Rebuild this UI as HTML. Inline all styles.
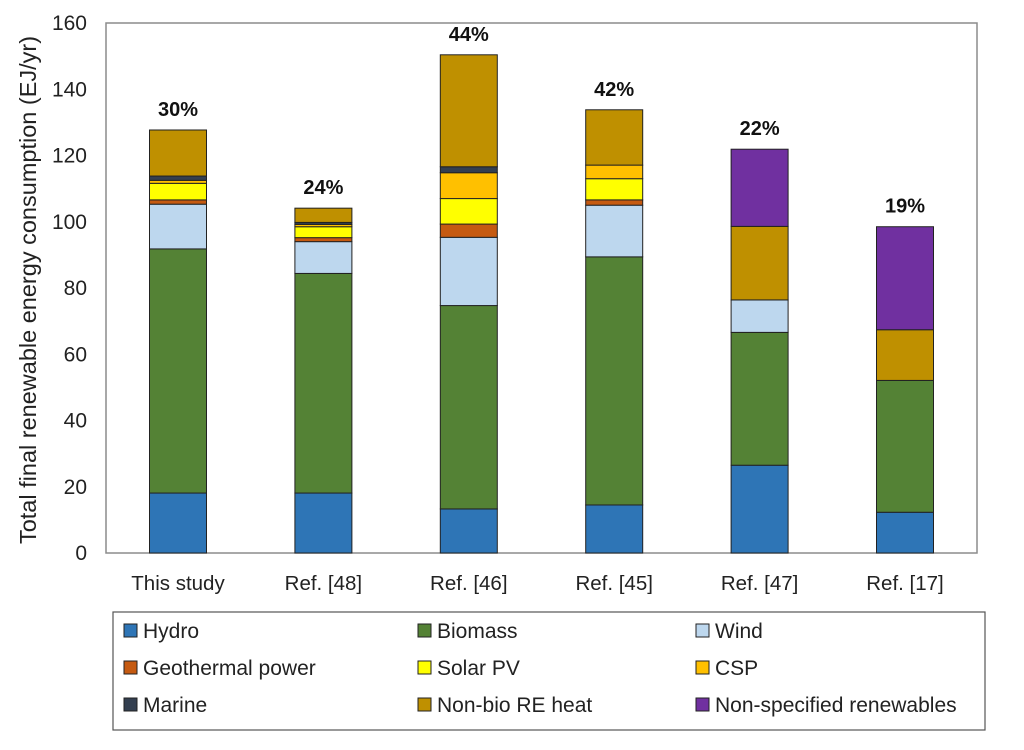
<!DOCTYPE html>
<html><head><meta charset="utf-8"><style>
body{margin:0;background:#fff;font-family:"Liberation Sans",sans-serif}
svg{display:block}
text{font-family:"Liberation Sans",sans-serif}
</style></head><body>
<svg id="chart" width="1024" height="750">
<rect x="106" y="23" width="871" height="530" fill="#fff" stroke="#8c8c8c" stroke-width="1.5"/>
<g id="yaxis"></g><g id="bars"></g><g id="legend"></g>
<text transform="translate(36,290) rotate(-90)" text-anchor="middle" font-size="23.5" fill="#222">Total final renewable energy consumption (EJ/yr)</text>
</svg>
<script>
const categories=["This study","Ref. [48]","Ref. [46]","Ref. [45]","Ref. [47]","Ref. [17]"];
const shares=["30%","24%","44%","42%","22%","19%"];
const seriesNames=["Hydro","Biomass","Wind","Geothermal power","Solar PV","CSP","Marine","Non-bio RE heat","Non-specified renewables"];
const hydro=[18.1,18.1,13.3,14.5,26.5,12.3];
const biomass=[73.7,66.3,61.4,74.9,40.1,39.8];
const wind=[13.5,9.6,20.6,15.6,9.8,0];
const geothermal=[1.3,1.2,4.0,1.6,0,0];
const solarPV=[5.0,3.3,7.7,6.4,0,0];
const csp=[0.9,0.7,7.8,4.1,0,0];
const marine=[1.3,0.6,1.8,0,0,0];
const heat=[13.9,4.3,33.8,16.7,22.2,15.3];
const nonSpecified=[0,0,0,0,23.3,31.1];
const yTicks=[0,20,40,60,80,100,120,140,160];
const colors=["#2e75b6","#548235","#bdd7ee","#c55a11","#ffff00","#ffc000","#333f50","#bf9000","#7030a0"];
const series=[hydro,biomass,wind,geothermal,solarPV,csp,marine,heat,nonSpecified];
const NS="http://www.w3.org/2000/svg";
const y0=553,yTop=23,yMax=160;
const y=v=>y0-v/yMax*(y0-yTop);
const x=i=>178+i*145.4;
const bw=57;
function mk(tag,attrs,parent,txt){const e=document.createElementNS(NS,tag);for(const k in attrs)e.setAttribute(k,attrs[k]);if(txt!=null)e.textContent=txt;parent.appendChild(e);return e;}
const ya=document.getElementById('yaxis');
yTicks.forEach(t=>{const e=mk('text',{x:87,y:y(t)+7,'text-anchor':'end','font-size':21,fill:'#222'},ya,t);

});
const bg=document.getElementById('bars');
categories.forEach((c,i)=>{let acc=0;
series.forEach((s,j)=>{const v=s[i];if(v<=0)return;
const r=mk('rect',{x:x(i)-bw/2,y:y(acc+v),width:bw,height:y(acc)-y(acc+v),fill:colors[j],stroke:'#222','stroke-width':1},bg);


acc+=v;});
const l=mk('text',{x:x(i),y:y(acc)-14,'text-anchor':'middle','font-size':20,'font-weight':'bold',fill:'#111'},bg,shares[i]);


const t=mk('text',{x:x(i),y:590,'text-anchor':'middle','font-size':20.5,fill:'#222'},bg,c);


});
const lg=document.getElementById('legend');
const box=mk('rect',{x:113,y:612,width:872,height:118,fill:'#fff',stroke:'#555','stroke-width':1.2},lg);


const colX=[124,418,696];
seriesNames.forEach((n,k)=>{const cx=colX[k%3],cy=631+Math.floor(k/3)*37;
const sq=mk('rect',{x:cx,y:cy-7,width:13,height:13,fill:colors[k],stroke:'#222','stroke-width':1},lg);


const tx=mk('text',{x:cx+19,y:cy+7,'font-size':21,fill:'#222'},lg,n);

});
</script>
</body></html>
